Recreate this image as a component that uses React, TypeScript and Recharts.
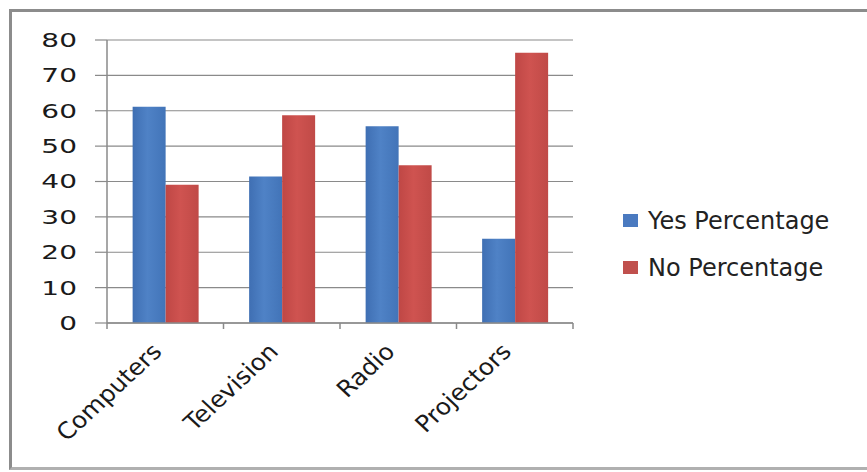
import { BarChart, Bar, XAxis, YAxis, CartesianGrid, Legend } from "recharts";

const categories = ["Computers", "Television", "Radio", "Projectors"];
const yesPercentage = [61.1, 41.4, 55.6, 23.8];
const noPercentage = [39.1, 58.7, 44.6, 76.4];
const yTicks = [0, 10, 20, 30, 40, 50, 60, 70, 80];

const series = [
  { key: "yes", name: "Yes Percentage", color: "#4a7ac0", grad: "gBlue" },
  { key: "no", name: "No Percentage", color: "#c0504d", grad: "gRed" },
];

const data = categories.map((name, i) => ({
  name,
  yes: yesPercentage[i],
  no: noPercentage[i],
}));

const FONT = "'DejaVu Sans', Verdana, sans-serif";

function YTick(props: any) {
  const { x, y, payload } = props;
  return (
    <text
      x={x}
      y={y}
      textAnchor="end"
      dominantBaseline="central"
      fontFamily={FONT}
      fontSize={20}
      fill="#1a1a1a"
      transform={`translate(${x},${y}) scale(1.4,1) translate(${-x},${-y})`}
    >
      {payload.value}
    </text>
  );
}

function XTick(props: any) {
  const { x, y, payload, index, width, visibleTicksCount } = props;
  const n = visibleTicksCount || categories.length;
  const band = width / n;
  const isLast = index === n - 1;
  const ax = x - 2;
  const ay = y + 30;
  return (
    <g>
      <line x1={x - band / 2} x2={x - band / 2} y1={y} y2={y + 6} stroke="#8a8a8a" strokeWidth={1.5} />
      {isLast && (
        <line x1={x + band / 2} x2={x + band / 2} y1={y} y2={y + 6} stroke="#8a8a8a" strokeWidth={1.5} />
      )}
      <text
        x={ax}
        y={ay}
        textAnchor="end"
        fontFamily={FONT}
        fontSize={23}
        fill="#1a1a1a"
        transform={`translate(${ax},${ay}) scale(1.08,1) rotate(-45) translate(${-ax},${-ay})`}
      >
        {payload.value}
      </text>
    </g>
  );
}

function LegendBox() {
  return (
    <div style={{ fontFamily: FONT }}>
      {series.map((s) => (
        <div key={s.key} style={{ display: "flex", alignItems: "center", height: 47 }}>
          <div
            style={{
              width: 15,
              height: 13,
              background: s.color,
              marginRight: 10,
              flexShrink: 0,
            }}
          />
          <span style={{ fontSize: 24, color: "#222", whiteSpace: "nowrap" }}>{s.name}</span>
        </div>
      ))}
    </div>
  );
}

export default function App() {
  return (
    <div style={{ position: "absolute", left: 0, top: 0, width: 867, height: 472, background: "#fff", overflow: "hidden" }}>
      <div
        style={{
          position: "absolute",
          left: 9,
          top: 9,
          width: 900,
          height: 455,
          borderLeft: "3px solid #8c8c8c",
          borderTop: "3px solid #8c8c8c",
          borderBottom: "3px solid #b0b0b0",
        }}
      />
      <div style={{ position: "absolute", left: 0, top: 0 }}>
        <BarChart
          width={867}
          height={472}
          data={data}
          margin={{ top: 40, right: 54, bottom: 0, left: 0 }}
          barCategoryGap="22%"
          barGap={0}
        >
          <defs>
            <linearGradient id="gBlue" x1="0" y1="0" x2="1" y2="0">
              <stop offset="0%" stopColor="#3f6fb3" />
              <stop offset="45%" stopColor="#4f82c6" />
              <stop offset="100%" stopColor="#4274b8" />
            </linearGradient>
            <linearGradient id="gRed" x1="0" y1="0" x2="1" y2="0">
              <stop offset="0%" stopColor="#bf4745" />
              <stop offset="45%" stopColor="#cf5350" />
              <stop offset="100%" stopColor="#c04a47" />
            </linearGradient>
          </defs>
          <CartesianGrid horizontal vertical={false} stroke="#8a8a8a" strokeWidth={1.2} />
          <XAxis
            dataKey="name"
            height={149}
            tickLine={false}
            tickSize={0}
            tickMargin={0}
            axisLine={{ stroke: "#8a8a8a", strokeWidth: 1.5 }}
            tick={<XTick />}
            interval={0}
          />
          <YAxis
            width={107}
            domain={[0, 80]}
            ticks={yTicks}
            tickSize={12}
            tickMargin={18}
            tickLine={{ stroke: "#8a8a8a", strokeWidth: 1.2 }}
            axisLine={{ stroke: "#8a8a8a", strokeWidth: 1.5 }}
            tick={<YTick />}
            interval={0}
          />
          <Legend
            layout="vertical"
            align="right"
            verticalAlign="top"
            wrapperStyle={{ left: 623, top: 197, width: 240 }}
            content={<LegendBox />}
          />
          {series.map((s) => (
            <Bar
              key={s.key}
              dataKey={s.key}
              name={s.name}
              fill={`url(#${s.grad})`}
              isAnimationActive={false}
            />
          ))}
        </BarChart>
      </div>
    </div>
  );
}
